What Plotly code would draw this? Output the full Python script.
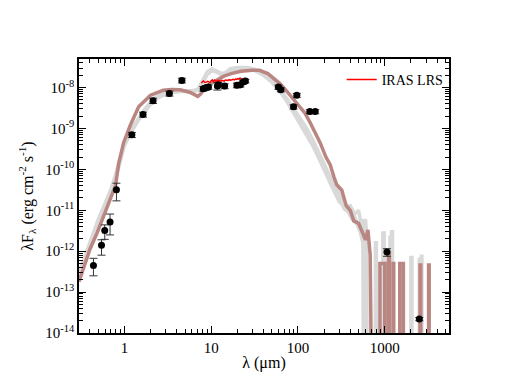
import numpy as np
import plotly.graph_objects as go

# photometry (wavelength in micron, lambda*F_lambda in erg cm-2 s-1)
obs_lam = [0.44, 0.545, 0.594, 0.684, 0.81, 1.22, 1.64, 2.14, 3.3, 4.6,
           8.1, 8.8, 9.3, 11.8, 12.1, 14.3, 19.8, 21.7, 23.3, 24.8,
           59.5, 63.5, 89, 97, 137, 158, 1060, 2500]
obs_flux = [4.5e-13, 1.4e-12, 3.2e-12, 5.2e-12, 3.2e-11, 7.0e-10, 2.2e-9, 4.8e-9, 7.2e-9, 1.5e-8,
            9.4e-9, 1.0e-8, 1.03e-8, 1.09e-8, 1.18e-8, 1.09e-8, 1.14e-8, 1.18e-8, 1.37e-8, 1.45e-8,
            1.03e-8, 8.9e-9, 3.4e-9, 6.5e-9, 2.6e-9, 2.6e-9, 9.5e-13, 2.2e-14]
obs_err_up = [2.2e-13, 0.5e-12, 1.2e-12, 2.9e-12, 1.4e-11, 1.0e-10, 0.3e-9, 0.7e-9, 1.0e-9, 0.2e-8,
              1.2e-9, 1.2e-9, 1.2e-9, 2.2e-9, 1.5e-9, 1.5e-9, 1.5e-9, 1.5e-9, 1.5e-9, 1.5e-9,
              1.2e-9, 1.0e-9, 4e-10, 7e-10, 3e-10, 3e-10, 2e-13, 2e-15]
obs_err_dn = [2.0e-13, 0.6e-12, 1.25e-12, 2.7e-12, 1.5e-11, 1.0e-10, 0.3e-9, 0.7e-9, 1.0e-9, 0.2e-8,
              1.2e-9, 1.2e-9, 1.2e-9, 2.2e-9, 1.5e-9, 1.5e-9, 1.5e-9, 1.5e-9, 1.5e-9, 1.5e-9,
              1.2e-9, 1.0e-9, 4e-10, 7e-10, 3e-10, 3e-10, 2e-13, 2e-15]

# IRAS LRS spectrum
lrs_lam = [7.7, 7.9, 8.1, 8.3, 8.5, 8.8, 9.1, 9.4, 9.7, 10.0, 10.3, 10.6, 10.9, 11.2, 11.5,
           11.8, 12.1, 12.5, 12.9, 13.3, 13.7, 14.1, 14.6, 15.1, 15.6, 16.1, 16.7, 17.3,
           17.9, 18.5, 19.1, 19.7, 20.3, 20.9, 21.5, 22.0, 22.5]
lrs_flux = [1.30e-8, 1.38e-8, 1.45e-8, 1.40e-8, 1.33e-8, 1.36e-8, 1.42e-8, 1.38e-8, 1.35e-8,
            1.47e-8, 1.55e-8, 1.40e-8, 1.52e-8, 1.45e-8, 1.38e-8, 1.50e-8, 1.44e-8, 1.48e-8,
            1.42e-8, 1.51e-8, 1.46e-8, 1.44e-8, 1.53e-8, 1.48e-8, 1.50e-8, 1.56e-8, 1.52e-8,
            1.55e-8, 1.60e-8, 1.54e-8, 1.62e-8, 1.58e-8, 1.65e-8, 1.60e-8, 1.72e-8, 1.66e-8, 1.58e-8]

# best-fit model (brown); 1e-20 = off the bottom of the axis
best_lam = [0.30, 0.34, 0.40, 0.485, 0.56, 0.63, 0.70, 0.79, 0.86, 0.98, 1.17, 1.46, 2.0, 2.8,
            3.5, 4.4, 5.75, 7.0, 7.6, 8.1, 9.5, 11.6, 14, 17, 22, 30, 36, 45, 55, 62, 75, 97,
            120, 138, 150, 180, 210, 235, 260, 280, 320, 360, 400, 440, 500, 560, 600, 640,
            680, 740, 880, 880, 1000, 1000, 1100, 1100, 1130, 1130, 1250, 1250, 1270, 1270,
            1490, 1490, 1640, 1640, 2550, 2550, 2600, 2600, 3200, 3200, 3250, 3250]
best_flux = [1.8e-13, 4.2e-13, 1.1e-12, 2.8e-12, 6e-12, 1.2e-11, 2.0e-11, 4e-11, 1.4e-10, 4.5e-10,
             1.2e-9, 3.4e-9, 6.5e-9, 8.6e-9, 9.0e-9, 8.8e-9, 7.6e-9, 6.1e-9, 7e-9, 9e-9, 1.2e-8,
             1.5e-8, 1.9e-8, 2.2e-8, 2.5e-8, 2.65e-8, 2.65e-8, 2.2e-8, 1.6e-8, 1.25e-8, 8e-9,
             4.3e-9, 2.4e-9, 1.4e-9, 1.0e-9, 4.5e-10, 2e-10, 1.3e-10, 6.5e-11, 4.2e-11, 3.1e-11,
             1.3e-11, 1e-11, 5.5e-12, 4.8e-12, 2.5e-12, 1.9e-12, 3.3e-12, 8e-13, 1e-20,
             1e-20, 5e-13, 5e-13, 1e-20, 1e-20, 9e-13, 9e-13, 1e-20, 1e-20, 5e-13, 5e-13, 1e-20,
             1e-20, 5e-13, 5e-13, 1e-20, 1e-20, 4.6e-13, 4.6e-13, 1e-20, 1e-20, 4.6e-13, 4.6e-13, 1e-20]

# other acceptable models (grey)
grey1_lam = [0.30, 0.40, 0.50, 0.60, 0.70, 0.80, 0.90, 1.0, 1.2, 1.45, 1.7, 2.2, 3.2, 4.5, 6.0,
             7.0, 8.0, 9.0, 10.2, 11.5, 13.3, 15.0, 16.6, 20, 26, 32, 40, 50, 62, 75, 88, 105,
             126, 150, 180, 210, 250, 300, 340, 380, 420, 470, 520, 560, 580,
             950, 950, 985, 985, 2000, 2000, 2060, 2060]
grey1_flux = [2.6e-13, 1.5e-12, 5.5e-12, 1.4e-11, 3.0e-11, 7.0e-11, 1.8e-10, 4.2e-10, 8.5e-10,
              1.7e-9, 2.7e-9, 5.2e-9, 7.7e-9, 8.3e-9, 8.4e-9, 9.0e-9, 1.5e-8, 2.4e-8, 2.9e-8,
              2.6e-8, 2.2e-8, 2.4e-8, 2.9e-8, 3.1e-8, 3.1e-8, 2.8e-8, 2.1e-8, 1.4e-8, 8.5e-9,
              4.8e-9, 2.8e-9, 1.5e-9, 8.5e-10, 4.2e-10, 1.8e-10, 8.5e-11, 4.0e-11, 2.0e-11,
              1.1e-11, 9e-12, 6e-12, 5e-12, 3e-12, 1.6e-12, 1e-20,
              1e-20, 2.8e-12, 2.8e-12, 1e-20, 1e-20, 7e-13, 7e-13, 1e-20]
grey2_lam = [0.30, 0.40, 0.50, 0.60, 0.70, 0.80, 0.90, 1.0, 1.2, 1.45, 1.7, 2.2, 3.2, 4.5, 6.0,
             7.0, 8.0, 9.0, 10.2, 11.5, 13.3, 15, 16.6, 20, 26, 32, 40, 50, 62, 75, 88, 105,
             126, 150, 180, 210, 250, 300, 350, 400, 450, 500, 540, 600, 620, 640,
             780, 780, 800, 800, 1200, 1200, 1230, 1230, 2640, 2640, 2680, 2680]
grey2_flux = [2.2e-13, 1.3e-12, 5e-12, 1.3e-11, 2.8e-11, 6.5e-11, 1.6e-10, 3.8e-10, 8e-10, 1.6e-9,
              2.5e-9, 5e-9, 7.4e-9, 8e-9, 8.1e-9, 8.6e-9, 1.3e-8, 2.1e-8, 2.6e-8, 2.4e-8, 2.0e-8,
              2.2e-8, 2.6e-8, 2.8e-8, 2.8e-8, 2.6e-8, 2.0e-8, 1.35e-8, 8e-9, 4.5e-9, 2.5e-9,
              1.3e-9, 7e-10, 3.6e-10, 1.6e-10, 7.5e-11, 3.5e-11, 1.6e-11, 1.2e-11, 1.3e-11, 8e-12,
              1e-11, 4e-12, 6e-12, 2.5e-12, 1e-20,
              1e-20, 1.6e-12, 1.6e-12, 1e-20, 1e-20, 3e-12, 3e-12, 1e-20, 1e-20, 7.5e-13, 7.5e-13, 1e-20]
grey3_lam = [0.30, 0.40, 0.50, 0.60, 0.70, 0.80, 0.90, 1.0, 1.2, 1.45, 1.7, 2.2, 3.2, 4.5, 6.0,
             7.0, 8.0, 9.0, 10.2, 11.5, 13.3, 15, 16.6, 20, 26, 32, 40, 50, 62, 75, 88, 105,
             126, 150, 180, 210, 250, 300, 350, 400, 450, 500, 560, 600, 610,
             1150, 1150, 1180, 1180, 2500, 2500, 2550, 2550]
grey3_flux = [3e-13, 1.7e-12, 6e-12, 1.5e-11, 3.3e-11, 8e-11, 2e-10, 4.6e-10, 9.5e-10, 1.8e-9,
              2.9e-9, 5.6e-9, 8e-9, 8.4e-9, 8.2e-9, 8.5e-9, 1.4e-8, 2.2e-8, 2.7e-8, 2.5e-8, 2.1e-8,
              2.3e-8, 2.7e-8, 2.9e-8, 2.9e-8, 2.7e-8, 2.2e-8, 1.5e-8, 9.5e-9, 5.5e-9, 3.2e-9,
              1.8e-9, 1e-9, 5e-10, 2.3e-10, 1.1e-10, 5e-11, 2.6e-11, 1.4e-11, 8e-12, 7e-12, 4e-12,
              6e-12, 2e-12, 1e-20,
              1e-20, 2.2e-12, 2.2e-12, 1e-20, 1e-20, 7e-13, 7e-13, 1e-20]

y_exps = [-14, -13, -12, -11, -10, -9, -8]
x_ticks = [1, 10, 100, 1000]

FONT = "Liberation Serif, Times New Roman, serif"
GREY = "#d9d9d9"
BROWN = "#b98682"

fig = go.Figure()

# grey models behind everything
for lam, flux in [(grey1_lam, grey1_flux), (grey2_lam, grey2_flux), (grey3_lam, grey3_flux)]:
    fig.add_trace(go.Scatter(
        x=lam, y=flux, mode="lines",
        line=dict(color=GREY, width=3.5),
        showlegend=False, hoverinfo="skip"
    ))

fig.add_trace(go.Scatter(
    x=best_lam, y=best_flux, mode="lines",
    line=dict(color=BROWN, width=3.5),
    showlegend=False, name="best fit"
))

fig.add_trace(go.Scatter(
    x=lrs_lam, y=lrs_flux, mode="lines",
    line=dict(color="#ff0000", width=1.5),
    name="IRAS LRS", showlegend=True
))

fig.add_trace(go.Scatter(
    x=obs_lam, y=obs_flux, mode="markers",
    marker=dict(color="black", size=7),
    error_y=dict(type="data", array=obs_err_up, arrayminus=obs_err_dn,
                 color="#333333", thickness=1, width=4),
    showlegend=False, name="photometry"
))

# minor tick positions (2..9 in each decade)
x_minor = [m * 10.0 ** d for d in range(-1, 4) for m in range(2, 10)]
y_minor = [m * 10.0 ** d for d in range(-14, -7) for m in range(2, 10)]

axis_common = dict(
    showline=True, linewidth=1.5, linecolor="black", mirror="allticks",
    ticks="inside", ticklen=7, tickwidth=1, tickcolor="black",
    showgrid=False, zeroline=False, automargin=False,
    tickfont=dict(family=FONT, size=15, color="black"),
)

fig.update_xaxes(
    type="log", range=[np.log10(0.3), np.log10(5500)],
    tickmode="array", tickvals=x_ticks, ticktext=[str(v) for v in x_ticks],
    minor=dict(tickmode="array", tickvals=x_minor, ticks="inside", ticklen=4, tickcolor="black"),
    title=dict(text="λ (μm)", font=dict(family=FONT, size=16, color="black"), standoff=2),
    **axis_common
)
fig.update_yaxes(
    type="log", range=[-14, np.log10(5e-8)],
    tickmode="array", tickvals=[10.0 ** e for e in y_exps],
    ticktext=[f"10<sup>{e}</sup>" for e in y_exps],
    minor=dict(tickmode="array", tickvals=y_minor, ticks="inside", ticklen=4, tickcolor="black"),
    title=dict(text="λF<sub>λ</sub> (erg cm<sup>-2</sup> s<sup>-1</sup>)",
               font=dict(family=FONT, size=16, color="black"), standoff=8),
    **axis_common
)

# the page body adds an 8px margin, so the figure is 8px smaller each way
fig.update_layout(
    width=500, height=384,
    margin=dict(l=71, r=59, t=51, b=59),
    plot_bgcolor="white", paper_bgcolor="white",
    font=dict(family=FONT, color="black"),
    legend=dict(x=0.71, y=0.982, xanchor="left", yanchor="top",
                bgcolor="rgba(0,0,0,0)", borderwidth=0,
                font=dict(family=FONT, size=14, color="black")),
)

fig.write_html("out.html")
